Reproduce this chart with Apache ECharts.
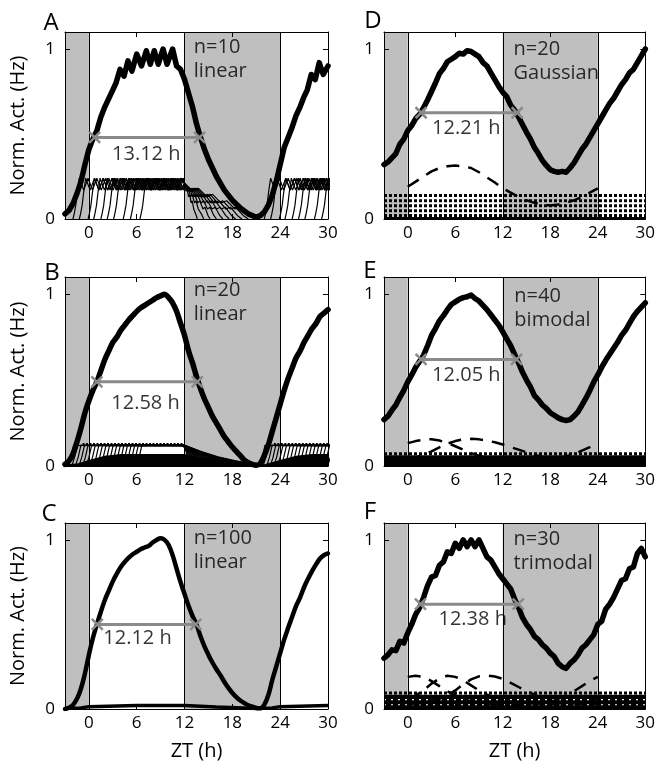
<!DOCTYPE html>
<html><head><meta charset="utf-8">
<script src="https://cdn.jsdelivr.net/npm/echarts@6/dist/echarts.min.js"></script>
<style>html,body{margin:0;padding:0;background:#fff}#c{width:658px;height:774px}</style>
</head><body><div id="c"></div>
<script>
// ---------- shared axis data ----------
const xTickValues = [0, 6, 12, 18, 24, 30];
const yTickValues = [0, 1];
const nightSpans = [[-3, 0], [12, 24]];
const lightSwitches = [0, 12, 24];

// ---------- Panel A: n=10 linear ----------
const aMain = [[-3,0.03],[-2.5,0.05],[-2,0.09],[-1.5,0.15],[-1,0.22],[-0.5,0.32],[0,0.41],[0.5,0.47],[1,0.52],[1.5,0.6],[2,0.66],[2.5,0.71],[3,0.76],[3.4,0.8],[3.9,0.88],[4.4,0.84],[4.9,0.93],[5.4,0.87],[6,0.97],[6.6,0.9],[7.2,0.99],[7.7,0.91],[8.2,0.99],[8.7,0.91],[9.3,1.0],[9.8,0.91],[10.5,1.0],[11,0.9],[11.5,0.88],[12,0.82],[12.5,0.74],[13,0.66],[13.5,0.56],[14,0.48],[14.5,0.41],[15,0.35],[16,0.25],[17,0.17],[18,0.11],[19,0.065],[20,0.03],[21,0.01],[21.5,0.02],[22,0.04],[22.5,0.08],[23,0.14],[23.5,0.22],[24,0.32],[24.5,0.42],[25,0.48],[25.5,0.54],[26,0.61],[26.5,0.66],[27,0.72],[27.4,0.76],[27.9,0.85],[28.4,0.82],[28.9,0.92],[29.4,0.85],[30,0.9]];
const aNeuronShape = [[0,0],[0.15,0.03],[0.35,0.08],[0.55,0.16],[0.8,0.24],[1.35,0.17],[1.9,0.24],[2.45,0.17],[3.0,0.24],[3.55,0.17],[4.1,0.24],[4.65,0.17],[5.2,0.24],[5.75,0.17],[6.3,0.24],[6.85,0.17],[7.4,0.24],[7.95,0.17],[8.5,0.24],[9.05,0.17],[9.6,0.24],[10.15,0.17],[10.7,0.24],[11.25,0.17],[11.8,0.24],[12.35,0.17],[12.9,0.24],[13.45,0.17],[14.0,0.24],[14.55,0.17]];
const aOnsets = [-2.0,-1.2,-0.1,0.6,1.5,2.3,3.1,4.3,5.2,6.4];
const aDecayEnds = [13.6,14.4,15.2,16.0,16.8,17.6,18.4,19.2,20.0,20.8];
const aDecayShape = [[0,1],[0.12,0.78],[0.2,0.86],[0.32,0.62],[0.4,0.69],[0.52,0.45],[0.6,0.51],[0.72,0.28],[0.8,0.33],[0.92,0.1],[1,0]];
const aDecayLevel = 0.21;
const aHalf = [[0.72,0.48],[13.88,0.48]];
const aHalfLabel = [[7.2,0.38]];
const aInfoPos = [[13.1,0.94]];

// ---------- Panel B: n=20 linear ----------
const bMain = [[-3,0.01],[-2.5,0.03],[-2,0.07],[-1.5,0.14],[-1,0.22],[-0.5,0.31],[0,0.38],[0.5,0.44],[1,0.49],[1.5,0.555],[2,0.62],[2.5,0.67],[3,0.72],[3.5,0.75],[4,0.79],[4.5,0.82],[5,0.85],[5.5,0.875],[6,0.9],[6.5,0.92],[7,0.935],[7.5,0.95],[8,0.965],[8.5,0.98],[9,0.99],[9.5,1.0],[10,0.98],[10.5,0.95],[11,0.9],[11.5,0.83],[12,0.76],[12.5,0.67],[13,0.6],[13.5,0.52],[14,0.45],[14.5,0.39],[15,0.34],[15.5,0.29],[16,0.25],[16.5,0.21],[17,0.17],[17.5,0.14],[18,0.11],[18.5,0.085],[19,0.06],[19.5,0.035],[20,0.02],[20.5,0.01],[21,0.005],[21.5,0.015],[22,0.06],[22.5,0.12],[23,0.2],[23.5,0.28],[24,0.36],[24.5,0.44],[25,0.51],[25.5,0.57],[26,0.63],[26.5,0.67],[27,0.72],[27.5,0.76],[28,0.8],[28.5,0.83],[29,0.87],[29.5,0.89],[30,0.91]];
const bNeuronShape = [[0,0],[0.35,0.05],[0.7,0.122],[1.2,0.118],[2,0.122],[3,0.118],[4,0.122],[5,0.118],[6,0.122],[7,0.118],[8,0.122],[9,0.118],[10,0.122],[11,0.118],[12,0.122],[13,0.118],[14,0.122],[15,0.118]];
const bOnsets = [-2.6,-2.15,-1.7,-1.25,-0.8,-0.35,0.1,0.55,1.0,1.45,1.9,2.35,2.8,3.25,3.7,4.15,4.6,5.05,5.5,5.95];
const bDecayEnds = [13,13.5,14,14.5,15,15.5,16,16.5,17,17.5,18,18.5,19,19.5,20,20.5,21,21.5,22,22.5];
const bDecayShape = [[0,1],[0.2,0.7],[0.4,0.45],[0.6,0.26],[0.8,0.11],[1,0]];
const bDecayLevel = 0.12;
const bTopBeads = [[[-0.8,0.125],[12,0.125]], [[23.2,0.125],[30,0.125]]];
const bDense = [[-3,0.01],[-1.5,0.015],[0,0.035],[2,0.06],[4,0.07],[12,0.07],[14,0.05],[16,0.035],[18,0.02],[20,0.01],[22,0.01],[24,0.035],[26,0.06],[28,0.07],[30,0.07]];
const bHalf = [[1.0,0.49],[13.6,0.49]];
const bHalfLabel = [[7.1,0.365]];
const bInfoPos = [[13.1,0.95]];

// ---------- Panel C: n=100 linear ----------
const cMain = [[-3,0.0],[-2.5,0.008],[-2,0.024],[-1.5,0.06],[-1,0.12],[-0.5,0.21],[0,0.32],[0.5,0.42],[1,0.5],[1.5,0.575],[2,0.645],[2.5,0.7],[3,0.755],[3.5,0.8],[4,0.84],[4.5,0.87],[5,0.895],[5.5,0.915],[6,0.93],[6.5,0.945],[7,0.955],[7.5,0.965],[8,0.985],[8.5,1.0],[9,1.01],[9.5,1.0],[10,0.97],[10.5,0.91],[11,0.83],[11.5,0.75],[12,0.68],[12.5,0.61],[13,0.55],[13.5,0.5],[14,0.43],[14.5,0.37],[15,0.32],[15.5,0.275],[16,0.235],[16.5,0.2],[17,0.16],[17.5,0.125],[18,0.095],[18.5,0.07],[19,0.05],[19.5,0.035],[20,0.022],[20.5,0.014],[21,0.006],[21.5,0.004],[22,0.025],[22.5,0.08],[23,0.17],[23.5,0.25],[24,0.33],[24.5,0.41],[25,0.48],[25.5,0.545],[26,0.61],[26.5,0.66],[27,0.72],[27.5,0.77],[28,0.815],[28.5,0.855],[29,0.89],[29.5,0.91],[30,0.92]];
const cNeurons = [[-3,0.004],[-1,0.006],[0,0.014],[6,0.02],[12,0.02],[16,0.012],[21,0.003],[23,0.006],[24,0.014],[30,0.02]];
const cHalf = [[1.05,0.5],[13.4,0.5]];
const cHalfLabel = [[6.1,0.42]];
const cInfoPos = [[13.1,0.94]];

// ---------- Panel D: n=20 Gaussian ----------
const dMain = [[-3,0.32],[-2.5,0.335],[-2,0.36],[-1.5,0.385],[-1,0.44],[-0.5,0.47],[0,0.52],[0.5,0.55],[1,0.59],[1.5,0.615],[2,0.655],[2.5,0.7],[3,0.75],[3.5,0.8],[4,0.855],[4.5,0.885],[5,0.925],[5.5,0.94],[6,0.955],[6.5,0.975],[7,0.97],[7.5,0.99],[8,0.985],[8.5,0.97],[9,0.955],[9.5,0.92],[10,0.9],[10.5,0.86],[11,0.82],[11.5,0.78],[12,0.745],[12.5,0.72],[13,0.67],[13.5,0.64],[14,0.6],[14.5,0.555],[15,0.51],[15.5,0.47],[16,0.42],[16.5,0.385],[17,0.345],[17.5,0.315],[18,0.29],[18.5,0.28],[19,0.275],[19.5,0.28],[20,0.275],[20.5,0.3],[21,0.33],[21.5,0.37],[22,0.41],[22.5,0.44],[23,0.48],[23.5,0.52],[24,0.56],[24.5,0.6],[25,0.64],[25.5,0.68],[26,0.71],[26.5,0.75],[27,0.79],[27.5,0.82],[28,0.86],[28.5,0.88],[29,0.92],[29.5,0.96],[30,1.0]];
const dEnvelope = [[0,0.19],[1,0.22],[2,0.25],[3,0.28],[4,0.3],[5,0.31],[6,0.315],[7,0.31],[8,0.3],[9,0.275],[10,0.245],[11,0.215],[12,0.18],[13,0.155],[14,0.13],[15,0.11],[16,0.095],[17,0.085],[18,0.08],[19,0.085],[20,0.095],[21,0.11],[22,0.13],[23,0.155],[24,0.18]];
const dRows = [0.138, 0.108, 0.078, 0.048, 0.02];
const dFloor = 0.012;
const dHalf = [[1.68,0.625],[13.82,0.625]];
const dHalfLabel = [[7.4,0.535]];
const dInfoPos = [[13.3,0.925]];

// ---------- Panel E: n=40 bimodal ----------
const eMain = [[-3,0.27],[-2.5,0.29],[-2,0.325],[-1.5,0.355],[-1,0.4],[-0.5,0.44],[0,0.49],[0.5,0.53],[1,0.575],[1.5,0.61],[2,0.645],[2.5,0.7],[3,0.76],[3.5,0.8],[4,0.845],[4.5,0.875],[5,0.91],[5.5,0.94],[6,0.955],[6.5,0.97],[7,0.98],[7.5,0.985],[8,0.995],[8.5,0.975],[9,0.96],[9.5,0.935],[10,0.91],[10.5,0.88],[11,0.85],[11.5,0.82],[12,0.78],[12.5,0.74],[13,0.7],[13.5,0.65],[14,0.6],[14.5,0.545],[15,0.5],[15.5,0.46],[16,0.41],[16.5,0.385],[17,0.355],[17.5,0.335],[18,0.31],[18.5,0.295],[19,0.28],[19.5,0.27],[20,0.265],[20.5,0.27],[21,0.29],[21.5,0.315],[22,0.355],[22.5,0.395],[23,0.44],[23.5,0.49],[24,0.53],[24.5,0.575],[25,0.615],[25.5,0.65],[26,0.685],[26.5,0.72],[27,0.76],[27.5,0.79],[28,0.83],[28.5,0.87],[29,0.9],[29.5,0.925],[30,0.95]];
const eMode1 = [[0,0.133],[1,0.145],[2,0.153],[3,0.156],[4,0.148],[5,0.135],[6,0.115],[7,0.095],[8,0.075],[9,0.06],[10,0.045],[11,0.035],[12,0.028],[14,0.022],[16,0.025],[18,0.035],[20,0.055],[21,0.07],[22,0.09],[23,0.11],[24,0.133]];
const eMode2 = [[0,0.04],[1,0.05],[2,0.065],[3,0.085],[4,0.108],[5,0.13],[6,0.145],[7,0.155],[8,0.158],[9,0.155],[10,0.148],[11,0.138],[12,0.125],[13,0.11],[14,0.095],[15,0.08],[16,0.065],[17,0.053],[18,0.045],[20,0.035],[22,0.033],[24,0.04]];
const eRows = [0.072];
const eFloor = 0.062;
const eHalf = [[1.68,0.62],[13.74,0.62]];
const eHalfLabel = [[7.4,0.53]];
const eInfoPos = [[13.4,0.92]];

// ---------- Panel F: n=30 trimodal ----------
const fMain = [[-3,0.3],[-2.5,0.32],[-2,0.35],[-1.5,0.345],[-1,0.4],[-0.5,0.39],[0,0.45],[0.5,0.5],[1,0.56],[1.5,0.6],[2,0.66],[2.5,0.73],[3,0.78],[3.5,0.79],[4,0.85],[4.5,0.87],[5,0.93],[5.5,0.92],[6,0.98],[6.5,0.95],[7,1.0],[7.5,0.96],[8,1.0],[8.5,0.96],[9,1.0],[9.5,0.95],[10,0.9],[10.5,0.88],[11,0.84],[11.5,0.8],[12,0.77],[12.5,0.74],[13,0.71],[13.5,0.65],[14,0.6],[14.5,0.54],[15,0.5],[15.5,0.47],[16,0.43],[16.5,0.41],[17,0.38],[17.5,0.36],[18,0.33],[18.5,0.31],[19,0.27],[19.5,0.25],[20,0.24],[20.5,0.27],[21,0.29],[21.5,0.32],[22,0.36],[22.5,0.38],[23,0.41],[23.5,0.44],[24,0.5],[24.5,0.52],[25,0.59],[25.5,0.62],[26,0.66],[26.5,0.71],[27,0.76],[27.5,0.77],[28,0.83],[28.5,0.84],[29,0.92],[29.5,0.95],[30,0.9]];
const fMode1 = [[0,0.19],[1,0.197],[2,0.19],[3,0.165],[4,0.135],[5,0.105],[6,0.08],[7,0.06],[8,0.045],[10,0.03],[12,0.025],[14,0.025],[16,0.03],[18,0.045],[19,0.06],[20,0.08],[21,0.105],[22,0.135],[23,0.165],[24,0.19]];
const fMode2 = [[0,0.06],[1,0.08],[2,0.11],[3,0.15],[4,0.18],[5,0.197],[6,0.19],[7,0.17],[8,0.14],[9,0.11],[10,0.085],[11,0.065],[12,0.05],[14,0.035],[18,0.03],[22,0.04],[24,0.06]];
const fMode3 = [[0,0.03],[2,0.035],[4,0.06],[5,0.08],[6,0.11],[7,0.145],[8,0.175],[9,0.193],[10,0.198],[11,0.192],[12,0.178],[13,0.155],[14,0.13],[15,0.105],[16,0.085],[17,0.065],[18,0.05],[20,0.035],[22,0.03],[24,0.03]];
const fRows = [0.095];
const fFloor = 0.085;
const fSpeckles = [0.025, 0.055];
const fHalf = [[1.6,0.62],[13.95,0.62]];
const fHalfLabel = [[8.2,0.53]];
const fInfoPos = [[13.3,0.93]];

// ---------- layout ----------
const FONT = 'Open Sans';
const grids = [
  {left:65, top:32, width:263, height:187},
  {left:65, top:277, width:263, height:189},
  {left:65, top:523, width:263, height:186},
  {left:384, top:32, width:263, height:187},
  {left:384, top:277, width:263, height:189},
  {left:384, top:523, width:263, height:186}
];
const letters = [['A',51,23.5],['B',52,273],['C',49,514],['D',373,21.5],['E',370,271],['F',370,512]];

const xAxes = [], yAxes = [];
grids.forEach((g, i) => {
  const bottomRow = (i === 2 || i === 5);
  const leftCol = i < 3;
  xAxes.push({type:'value', gridIndex:i, min:-3, max:30, position:'bottom', z:10,
    axisLine:{show:true, onZero:false, lineStyle:{color:'#000', width:1}},
    axisTick:{show:true, inside:true, length:5, customValues:xTickValues, lineStyle:{color:'#000'}},
    axisLabel:{show:true, customValues:xTickValues, color:'#000', fontSize:17, margin:6, fontFamily:FONT},
    splitLine:{show:false},
    name: bottomRow ? 'ZT (h)' : '', nameLocation:'middle', nameGap:32,
    nameTextStyle:{color:'#000', fontSize:20, fontFamily:FONT}});
  xAxes.push({type:'value', gridIndex:i, min:-3, max:30, position:'top', z:10,
    axisLine:{show:true, onZero:false, lineStyle:{color:'#000', width:1}},
    axisTick:{show:true, inside:true, length:5, customValues:xTickValues, lineStyle:{color:'#000'}},
    axisLabel:{show:false}, splitLine:{show:false}});
  yAxes.push({type:'value', gridIndex:i, min:0, max:1.1, position:'left', z:10,
    axisLine:{show:true, onZero:false, lineStyle:{color:'#000', width:1}},
    axisTick:{show:true, inside:true, length:5, customValues:yTickValues, lineStyle:{color:'#000'}},
    axisLabel:{show:true, customValues:yTickValues, color:'#000', fontSize:17, margin:10, fontFamily:FONT},
    splitLine:{show:false},
    name: leftCol ? 'Norm. Act. (Hz)' : '', nameLocation:'middle', nameGap:37,
    nameTextStyle:{color:'#000', fontSize:20, fontFamily:FONT}});
  yAxes.push({type:'value', gridIndex:i, min:0, max:1.1, position:'right', z:10,
    axisLine:{show:true, onZero:false, lineStyle:{color:'#000', width:1}},
    axisTick:{show:true, inside:true, length:5, customValues:yTickValues, lineStyle:{color:'#000'}},
    axisLabel:{show:false}, splitLine:{show:false}});
});

const series = [];
function ax(i) { return {xAxisIndex:2*i, yAxisIndex:2*i}; }
function line(i, data, style, z, extra) {
  series.push(Object.assign({type:'line', data:data, showSymbol:false, symbol:'none', silent:true, z:z,
    lineStyle:Object.assign({color:'#000', width:1}, style), animation:false}, ax(i), extra || {}));
}
function background(i) {
  series.push(Object.assign({type:'line', data:[], silent:true, z:1, animation:false,
    markArea:{silent:true, itemStyle:{color:'#bfbfbf'}, data: nightSpans.map(([a,b]) => [{xAxis:a},{xAxis:b}])},
    markLine:{silent:true, symbol:['none','none'], label:{show:false}, animation:false,
      lineStyle:{color:'#000', width:1, type:'solid'}, data: lightSwitches.map(v => ({xAxis:v}))}}, ax(i)));
}
function neuronTrace(onset, stop, end, shape, decay, level) {
  const pts = [];
  for (const [t, v] of shape) { const x = onset + t; if (x >= stop) break; pts.push([x, v]); }
  if (end > stop) for (const [f, v] of decay) pts.push([stop + f * (end - stop), v * level]);
  return pts;
}
function neurons(i, onsets, ends, shape, decay, level, width) {
  onsets.forEach((o, k) => {
    line(i, neuronTrace(o, 12, ends[k], shape, decay, level), {width:width}, 2);
    line(i, neuronTrace(o + 24, 36, 36, shape, decay, level), {width:width}, 2);
  });
}
function rows(i, levels, style) {
  levels.forEach(r => line(i, [[-3, r], [30, r]], Object.assign({width:3, type:[3,2]}, style), 2));
}
function floorArea(i, data) {
  line(i, data, {width:0}, 2, {areaStyle:{color:'#000', opacity:1}});
}
function dashed(i, data) { line(i, data, {width:2.5, type:[13,9]}, 3); }
function mainCurve(i, data, width, smooth) { line(i, data, {width:width, join:'round', cap:'round'}, 4, {smooth:smooth}); }
function halfMax(i, data, labelPos, text) {
  series.push(Object.assign({type:'line', data:data, silent:true, z:5, animation:false,
    symbol:'path://M0,0L10,10M10,0L0,10', symbolSize:11, showSymbol:true,
    itemStyle:{color:'rgba(0,0,0,0)', borderColor:'#8a8a8a', borderWidth:2.5},
    lineStyle:{color:'#8a8a8a', width:3}}, ax(i)));
  series.push(Object.assign({type:'scatter', data:labelPos, symbolSize:1, silent:true, z:6, animation:false,
    itemStyle:{color:'rgba(0,0,0,0)'},
    label:{show:true, position:'inside', formatter:text, color:'#000', fontSize:20, fontFamily:FONT}}, ax(i)));
}
function info(i, pos, text) {
  series.push(Object.assign({type:'scatter', data:pos, symbolSize:1, silent:true, z:6, animation:false,
    itemStyle:{color:'rgba(0,0,0,0)'},
    label:{show:true, position:'right', distance:0, align:'left', formatter:text, color:'#000', fontSize:20, lineHeight:24, fontFamily:FONT}}, ax(i)));
}

// Panel A (grid 0)
background(0);
neurons(0, aOnsets, aDecayEnds, aNeuronShape, aDecayShape, aDecayLevel, 1.2);
mainCurve(0, aMain, 5.5, false);
halfMax(0, aHalf, aHalfLabel, '13.12 h');
info(0, aInfoPos, 'n=10\nlinear');

// Panel B (grid 1)
background(1);
floorArea(1, bDense);
neurons(1, bOnsets, bDecayEnds, bNeuronShape, bDecayShape, bDecayLevel, 1.2);
bTopBeads.forEach(seg => line(1, seg, {width:3, type:[2,1.5]}, 2));
mainCurve(1, bMain, 5.5, 0.3);
halfMax(1, bHalf, bHalfLabel, '12.58 h');
info(1, bInfoPos, 'n=20\nlinear');

// Panel C (grid 2)
background(2);
line(2, cNeurons, {width:3.5}, 2);
mainCurve(2, cMain, 4.5, 0.4);
halfMax(2, cHalf, cHalfLabel, '12.12 h');
info(2, cInfoPos, 'n=100\nlinear');

// Panel D (grid 3)
background(3);
floorArea(3, [[-3, dFloor], [30, dFloor]]);
rows(3, dRows, {});
dashed(3, dEnvelope);
mainCurve(3, dMain, 5.5, false);
halfMax(3, dHalf, dHalfLabel, '12.21 h');
info(3, dInfoPos, 'n=20\nGaussian');

// Panel E (grid 4)
background(4);
floorArea(4, [[-3, eFloor], [30, eFloor]]);
rows(4, eRows, {});
dashed(4, eMode1);
dashed(4, eMode2);
mainCurve(4, eMain, 5.5, false);
halfMax(4, eHalf, eHalfLabel, '12.05 h');
info(4, eInfoPos, 'n=40\nbimodal');

// Panel F (grid 5)
background(5);
floorArea(5, [[-3, fFloor], [30, fFloor]]);
rows(5, fRows, {});
rows(5, fSpeckles, {color:'#fff', width:1.2, type:[2,5]});
dashed(5, fMode1);
dashed(5, fMode2);
dashed(5, fMode3);
mainCurve(5, fMain, 5.5, false);
halfMax(5, fHalf, fHalfLabel, '12.38 h');
info(5, fInfoPos, 'n=30\ntrimodal');

const chart = echarts.init(document.getElementById('c'), null, {renderer:'canvas', width:658, height:774});
chart.setOption({
  animation:false,
  backgroundColor:'#fff',
  textStyle:{fontFamily:FONT},
  grid: grids,
  xAxis: xAxes,
  yAxis: yAxes,
  series: series,
  graphic: letters.map(([t, x, y]) => ({type:'text', x:x, y:y, silent:true,
    style:{text:t, fill:'#000', font:'24px "Open Sans"', align:'center', verticalAlign:'middle', textAlign:'center', textVerticalAlign:'middle'}}))
});
</script></body></html>
